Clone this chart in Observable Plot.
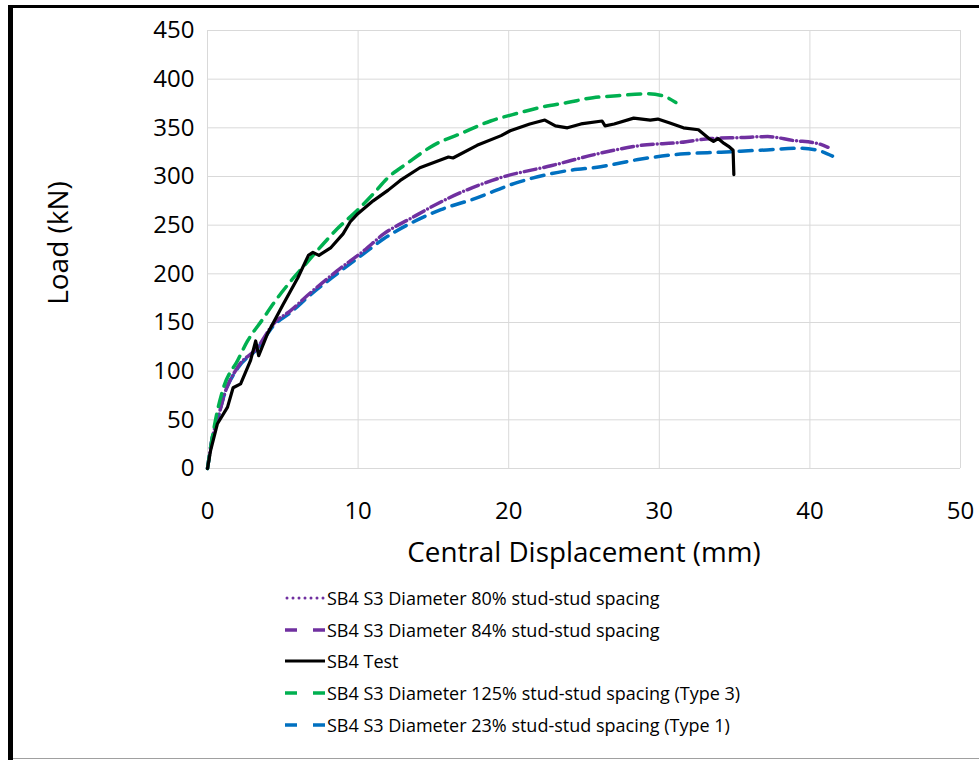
<!DOCTYPE html>
<html>
<head>
<meta charset="utf-8">
<script src="https://cdn.jsdelivr.net/npm/d3@7"></script>
<script src="https://cdn.jsdelivr.net/npm/@observablehq/plot@0.6"></script>
<style>
  body { margin: 0; background: #fff; }
  #wrap { position: relative; width: 979px; height: 760px; overflow: hidden; background: #fff; font-family: "Open Sans", Lato, sans-serif; color: #000; }
  #chart { position: absolute; left: 0; top: 0; }
  .frame-l { position: absolute; left: 8px; top: 5px; width: 5px; height: 755px; background: #000; }
  .frame-t { position: absolute; left: 8px; top: 5px; width: 971px; height: 3px; background: #000; }
  .frame-b { position: absolute; left: 13px; top: 758px; width: 966px; height: 1px; background: #a0a0a0; }
  .ylab { position: absolute; left: 57px; top: 243px; transform: translate(-50%, -50%) rotate(-90deg); font-size: 28px; white-space: nowrap; }
  .xlab { position: absolute; left: 584px; top: 551px; transform: translate(-50%, -50%); font-size: 27.8px; white-space: nowrap; }
  #legend { position: absolute; left: 285px; top: 582px; font-size: 18px; }
  #legend .row { height: 31.7px; display: flex; align-items: center; }
  #legend svg { width: 42px; height: 12px; margin-right: 0px; }
</style>
</head>
<body>
<div id="wrap">
  <div id="chart"></div>
  <div class="ylab">Load (kN)</div>
  <div class="xlab">Central Displacement (mm)</div>
  <div id="legend"></div>
  <div class="frame-t"></div>
  <div class="frame-l"></div>
  <div class="frame-b"></div>
</div>
<script>
// ---- Data ----
const xTicks = [0, 10, 20, 30, 40, 50];
const yTicks = [0, 50, 100, 150, 200, 250, 300, 350, 400, 450];

const seriesNames = [
  "SB4 S3 Diameter 80% stud-stud spacing",
  "SB4 S3 Diameter 84% stud-stud spacing",
  "SB4 Test",
  "SB4 S3 Diameter 125% stud-stud spacing (Type 3)",
  "SB4 S3 Diameter 23% stud-stud spacing (Type 1)"
];

const s80X = [0, 0.3, 0.7, 1.1, 2, 3.3, 4.4, 5.5, 6.8, 8.6, 10.4, 11.7, 13.5, 15.9, 19.5, 22.8, 26.1, 28.8, 31.4, 33.4, 35.4, 37.2, 38.9, 40.5, 41.2];
const s80Y = [0, 30, 52, 75, 104, 124, 149, 162, 180, 203, 224, 241, 257, 277, 299, 311, 324, 332, 335, 339, 340, 341, 337, 334, 330];

const s84X = [0, 0.3, 0.7, 1.1, 2, 3.3, 4.4, 5.5, 6.8, 8.6, 10.4, 11.7, 13.5, 15.9, 19.5, 22.8, 26.1, 28.8, 31.4, 33.4, 35.4, 37.2, 38.9, 40.5, 41.2];
const s84Y = [0, 30, 52, 75, 104, 124, 149, 162, 180, 203, 224, 241, 257, 277, 299, 311, 324, 332, 335, 339, 340, 341, 337, 334, 330];

const testX = [0, 0.2, 0.66, 1.33, 1.7, 2.2, 2.86, 3.2, 3.4, 4.0, 5.0, 6.0, 6.7, 7.0, 7.4, 8.2, 9.0, 9.5, 10, 11, 12, 12.8, 14.1, 16.0, 16.3, 17.9, 19.5, 20.1, 21.4, 22.4, 23.1, 23.9, 24.8, 26.2, 26.4, 27, 28.3, 29.4, 29.9, 30.7, 31.6, 32.6, 33.3, 33.6, 33.9, 34.3, 34.6, 34.9, 34.95];
const testY = [0, 18, 46, 63, 83, 87, 111, 131, 116, 139, 168, 196, 219, 222, 219, 227, 241, 254, 262, 275, 286, 296, 309, 320, 319, 332, 342, 347, 354, 358, 352, 350, 354, 357, 352, 354, 360, 358, 359, 355, 350, 348, 339, 336, 339, 334, 331, 327, 302];

const s125X = [0, 0.3, 0.6, 1.06, 2.0, 2.66, 3.65, 4.4, 5.5, 6.4, 7.3, 8.6, 10, 11, 12, 13.3, 15, 16.8, 18.8, 20.6, 22.1, 23.9, 25.6, 27.2, 29.2, 30.2, 31.1];
const s125Y = [0, 30, 55, 83, 111, 131, 153, 170, 192, 208, 224, 246, 266, 282, 299, 314, 332, 344, 357, 365, 371, 376, 381, 383, 385, 383, 376];

const s23X = [0, 0.3, 0.7, 1.1, 2, 3.3, 4.4, 5.5, 6.8, 8.6, 10.4, 11.7, 13.5, 15.5, 17.7, 20.6, 23.9, 26.1, 28.8, 31.4, 34.1, 36.7, 39.4, 40.5, 41.5];
const s23Y = [0, 30, 52, 75, 103, 123, 147, 160, 178, 200, 221, 236, 252, 266, 277, 294, 306, 310, 318, 323, 325, 327, 329, 327, 321];

// ---- Styling ----
const purple = "#7030A0", green = "#00B050", blue = "#0070C0", black = "#000000";

const toRows = (xs, ys) => xs.map((x, i) => ({x, y: ys[i]}));
const d80 = toRows(s80X, s80Y);
const d84 = toRows(s84X, s84Y);
const dTest = toRows(testX, testY);
const d125 = toRows(s125X, s125Y);
const d23 = toRows(s23X, s23Y);

const chart = Plot.plot({
  width: 979,
  height: 580,
  marginLeft: 207,
  marginRight: 19,
  marginTop: 30,
  marginBottom: 112,
  style: { fontFamily: "'Open Sans', Lato, sans-serif", fontSize: "24px", color: "#000", background: "transparent" },
  x: { domain: [0, 50], ticks: xTicks, tickSize: 0, tickPadding: 33, label: null },
  y: { domain: [0, 450], ticks: yTicks, tickSize: 0, tickPadding: 13, label: null },
  marks: [
    Plot.ruleX(xTicks, { stroke: "#d9d9d9", strokeWidth: 1 }),
    Plot.ruleY(yTicks, { stroke: "#d9d9d9", strokeWidth: 1 }),
    Plot.line(d23, { x: "x", y: "y", stroke: blue, strokeWidth: 3.5, strokeDasharray: "13,8", curve: "monotone-x" }),
    Plot.line(d84, { x: "x", y: "y", stroke: purple, strokeWidth: 3.5, strokeDasharray: "12,8", curve: "monotone-x" }),
    Plot.line(d80, { x: "x", y: "y", stroke: purple, strokeWidth: 3.5, strokeDasharray: "0,20", strokeDashoffset: -16, strokeLinecap: "round", curve: "monotone-x" }),
    Plot.line(d125, { x: "x", y: "y", stroke: green, strokeWidth: 3.5, strokeDasharray: "13,8", curve: "monotone-x" }),
    Plot.line(dTest, { x: "x", y: "y", stroke: black, strokeWidth: 3.2, curve: "linear", strokeLinejoin: "round" })
  ]
});
document.getElementById("chart").appendChild(chart);

// ---- Legend ----
const legendStyles = [
  { color: purple, dash: "0,6", cap: "round", w: 3 },
  { color: purple, dash: "12,16,12", cap: "butt", w: 3.5 },
  { color: black, dash: null, cap: "butt", w: 3 },
  { color: green, dash: "12,16,12", cap: "butt", w: 3.5 },
  { color: blue, dash: "12,16,12", cap: "butt", w: 3.5 }
];
const legend = document.getElementById("legend");
seriesNames.forEach((name, i) => {
  const st = legendStyles[i];
  const row = document.createElement("div");
  row.className = "row";
  const ns = "http://www.w3.org/2000/svg";
  const svg = document.createElementNS(ns, "svg");
  svg.setAttribute("viewBox", "0 0 42 12");
  const ln = document.createElementNS(ns, "line");
  ln.setAttribute("x1", st.cap === "round" ? 2 : 0);
  ln.setAttribute("x2", 40);
  ln.setAttribute("y1", 6); ln.setAttribute("y2", 6);
  ln.setAttribute("stroke", st.color);
  ln.setAttribute("stroke-width", st.w);
  ln.setAttribute("stroke-linecap", st.cap);
  if (st.dash) ln.setAttribute("stroke-dasharray", st.dash);
  svg.appendChild(ln);
  row.appendChild(svg);
  const span = document.createElement("span");
  span.textContent = name;
  row.appendChild(span);
  legend.appendChild(row);
});
</script>
</body>
</html>
